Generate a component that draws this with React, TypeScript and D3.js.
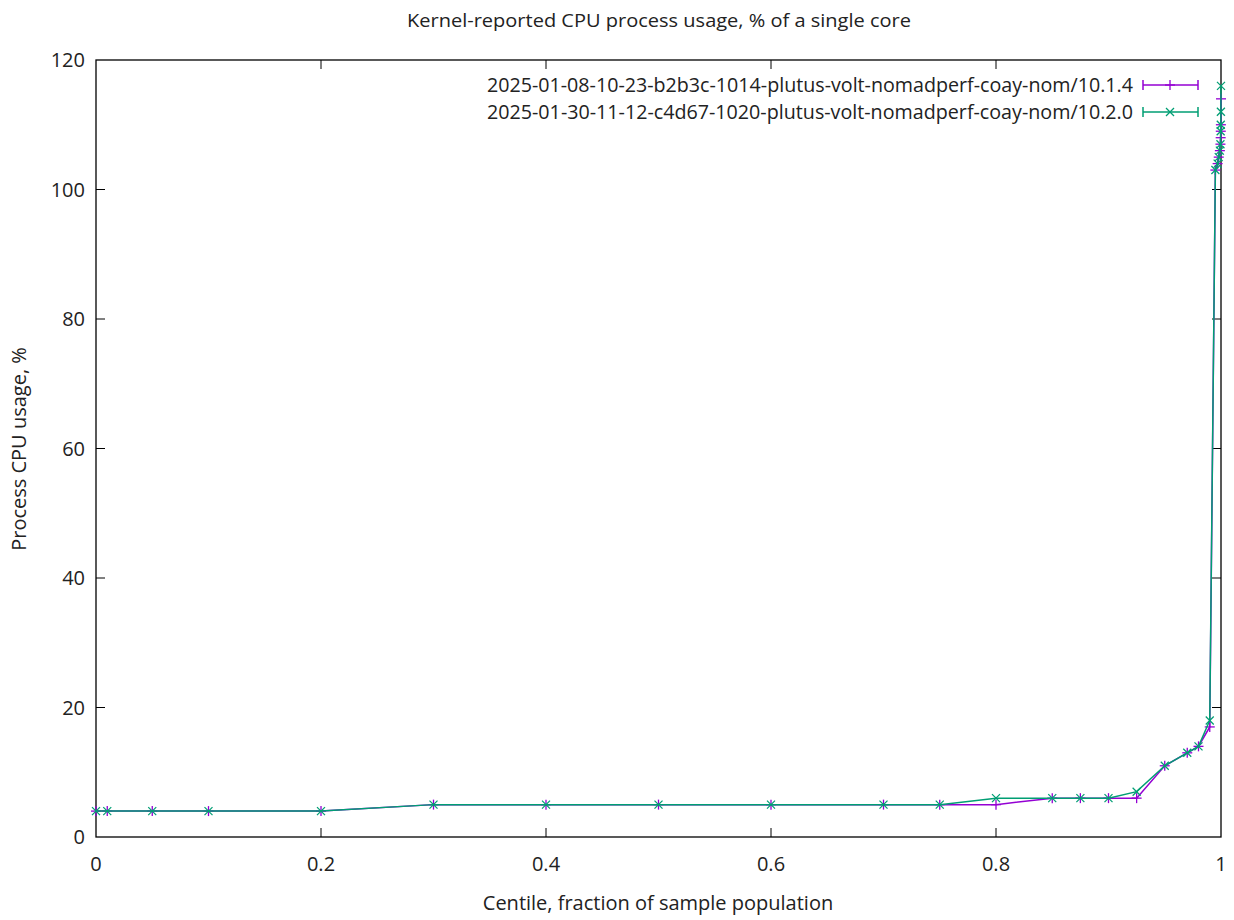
import React from "react";
import * as d3 from "d3";

const centiles = [0, 0.01, 0.05, 0.1, 0.2, 0.3, 0.4, 0.5, 0.6, 0.7, 0.75, 0.8, 0.85, 0.875, 0.9, 0.925, 0.95, 0.97, 0.98, 0.99, 0.995, 0.997, 0.998, 0.999, 0.9995, 0.9997, 0.9998, 0.9999, 1.0];
const seriesA = [4, 4, 4, 4, 4, 5, 5, 5, 5, 5, 5, 5, 6, 6, 6, 6, 11, 13, 14, 17, 103, 104, 105, 106, 107, 108, 109, 110, 114];
const seriesB = [4, 4, 4, 4, 4, 5, 5, 5, 5, 5, 5, 6, 6, 6, 6, 7, 11, 13, 14, 18, 103, 104, 105, 106, 107, 109, 110, 112, 116];
const seriesNames = [
  "2025-01-08-10-23-b2b3c-1014-plutus-volt-nomadperf-coay-nom/10.1.4",
  "2025-01-30-11-12-c4d67-1020-plutus-volt-nomadperf-coay-nom/10.2.0",
];
const colors = ["#9400d3", "#009e73"];
const xTicks = [0, 0.2, 0.4, 0.6, 0.8, 1];
const yTicks = [0, 20, 40, 60, 80, 100, 120];
const title = "Kernel-reported CPU process usage, % of a single core";
const xLabel = "Centile, fraction of sample population";
const yLabel = "Process CPU usage, %";

const W = 1234, H = 920;
const L = 96, R = 1221, T = 60, B = 837;
const font = "'Open Sans', 'Noto Sans', sans-serif";
const FS = 20;

export default function App() {
  const x = d3.scaleLinear().domain([0, 1]).range([L, R]);
  const y = d3.scaleLinear().domain([0, 120]).range([B, T]);
  const series = [seriesA, seriesB];
  const line = d3.line<[number, number]>().x((d) => x(d[0])).y((d) => y(d[1]));
  const tl = 9;
  const plus = (cx: number, cy: number, c: string, k: string) => (
    <g key={k} stroke={c} strokeWidth={1.3}>
      <line x1={cx - 5} x2={cx + 5} y1={cy} y2={cy} />
      <line x1={cx} x2={cx} y1={cy - 5} y2={cy + 5} />
    </g>
  );
  const cross = (cx: number, cy: number, c: string, k: string) => (
    <g key={k} stroke={c} strokeWidth={1.3}>
      <line x1={cx - 4} x2={cx + 4} y1={cy - 4} y2={cy + 4} />
      <line x1={cx - 4} x2={cx + 4} y1={cy + 4} y2={cy - 4} />
    </g>
  );
  const markers = [plus, cross];
  return (
    <svg width={W} height={H} style={{ position: "absolute", left: 0, top: 0, background: "#fff" }} fontFamily={font}>
      <rect width={W} height={H} fill="#fff" />
      <text x={659} y={27} textAnchor="middle" fontSize={18} fill="#222" textLength={504} lengthAdjust="spacingAndGlyphs">{title}</text>
      {xTicks.map((t) => (
        <g key={"x" + t}>
          {t > 0 && t < 1 && <line x1={x(t)} x2={x(t)} y1={B} y2={B - tl} stroke="#000" />}
          {t > 0 && t < 1 && <line x1={x(t)} x2={x(t)} y1={T} y2={T + tl} stroke="#000" />}
          <text x={x(t)} y={871} textAnchor="middle" fontSize={FS} fill="#222">{String(t)}</text>
        </g>
      ))}
      {yTicks.map((t) => (
        <g key={"y" + t}>
          {t > 0 && t < 120 && <line x1={L} x2={L + tl} y1={y(t)} y2={y(t)} stroke="#000" />}
          {t > 0 && t < 120 && <line x1={R} x2={R - tl} y1={y(t)} y2={y(t)} stroke="#000" />}
          <text x={85} y={y(t) + 7} textAnchor="end" fontSize={FS} fill="#222">{t}</text>
        </g>
      ))}
      <rect x={L} y={T} width={R - L} height={B - T} fill="none" stroke="#000" strokeWidth={1.3} />
      <text x={658} y={910} textAnchor="middle" fontSize={FS} fill="#222">{xLabel}</text>
      <text transform={`translate(26,449) rotate(-90)`} textAnchor="middle" fontSize={FS} fill="#222">{yLabel}</text>
      {series.map((s, i) => {
        const pts: [number, number][] = centiles.map((c, j) => [c, s[j]]);
        return (
          <g key={"s" + i}>
            <path d={line(pts) || ""} fill="none" stroke={colors[i]} strokeWidth={1.5} />
            {pts.map((p, j) => markers[i](x(p[0]), y(p[1]), colors[i], "m" + i + "-" + j))}
          </g>
        );
      })}
      {seriesNames.map((n, i) => {
        const ly = 85 + i * 27;
        return (
          <g key={"l" + i}>
            <text x={1133} y={ly + 7} textAnchor="end" fontSize={FS} fill="#222" textLength={646} lengthAdjust="spacingAndGlyphs">{n}</text>
            <line x1={1143} x2={1198} y1={ly} y2={ly} stroke={colors[i]} strokeWidth={1.5} />
            <line x1={1143} x2={1143} y1={ly - 5} y2={ly + 5} stroke={colors[i]} strokeWidth={1.5} />
            <line x1={1198} x2={1198} y1={ly - 5} y2={ly + 5} stroke={colors[i]} strokeWidth={1.5} />
            {markers[i](1170, ly, colors[i], "lm" + i)}
          </g>
        );
      })}
    </svg>
  );
}
